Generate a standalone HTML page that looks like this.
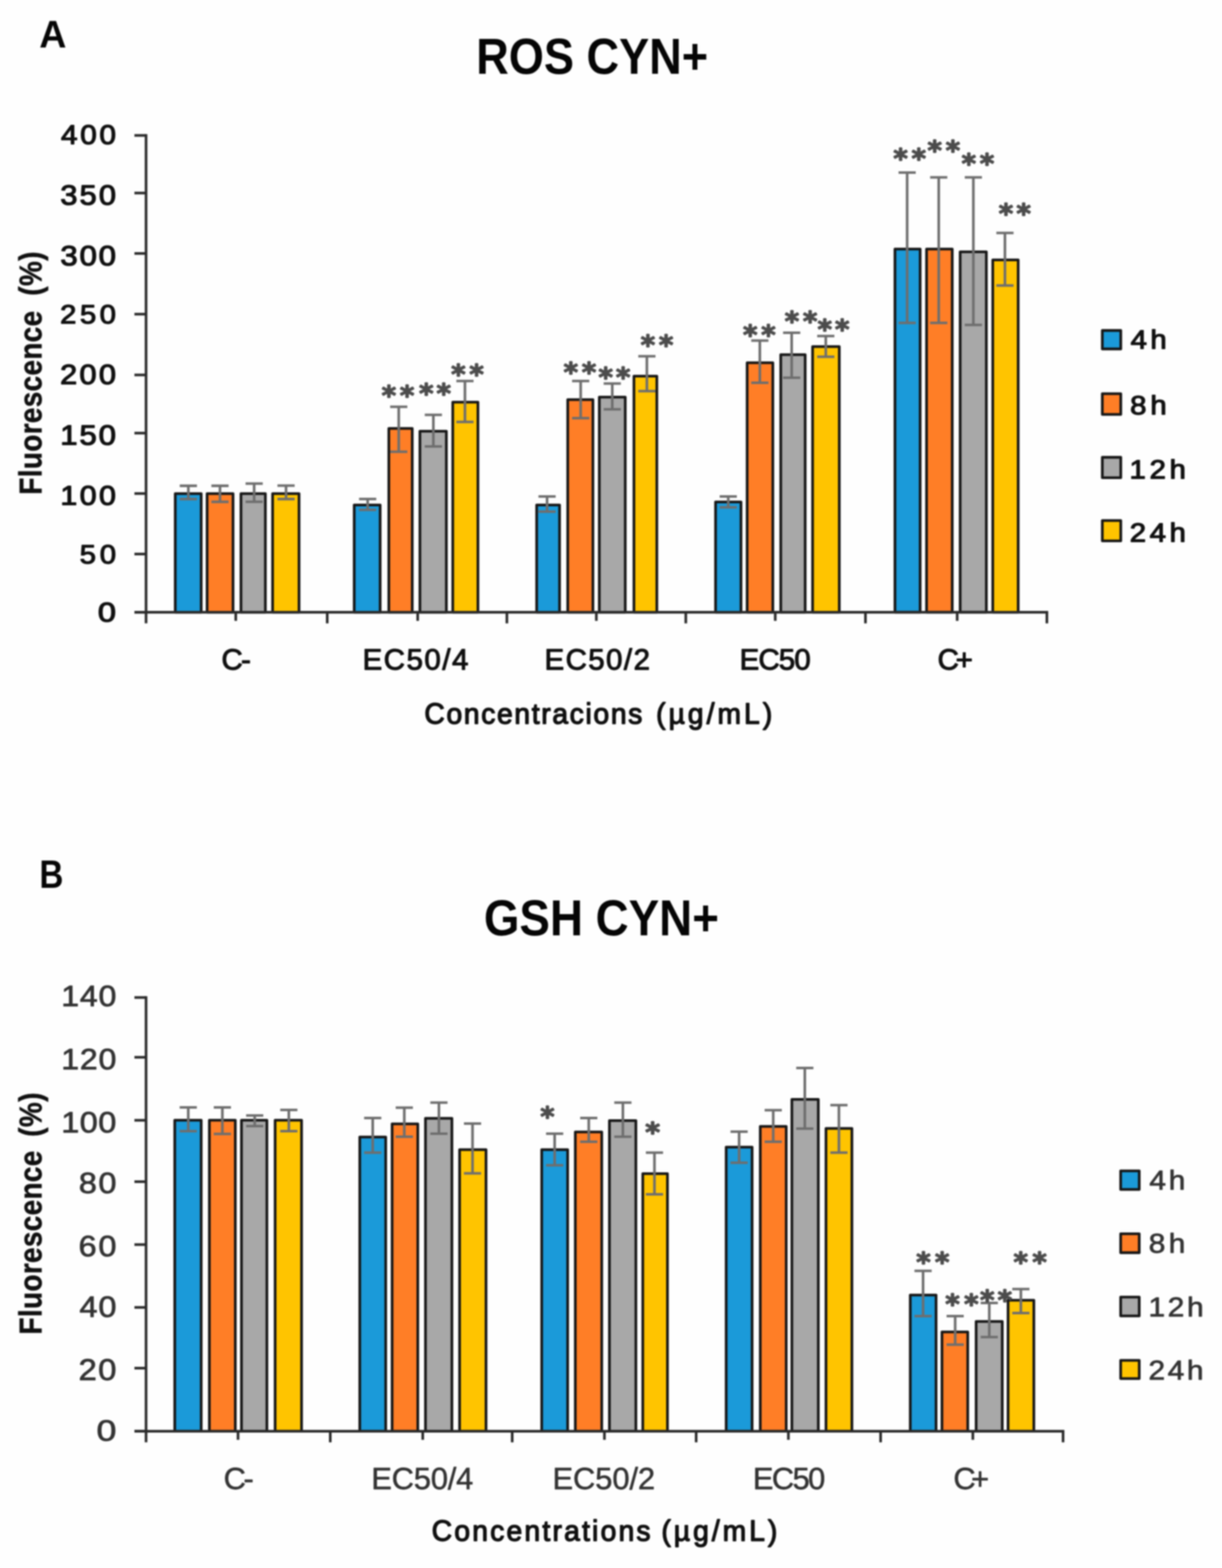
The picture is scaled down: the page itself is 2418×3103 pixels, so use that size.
<!DOCTYPE html>
<html lang="en">
<head>
<meta charset="utf-8">
<title>ROS CYN+ and GSH CYN+ fluorescence charts</title>
<style>
html,body{margin:0;padding:0;background:#fefefe;}
body{width:2418px;height:3103px;}
svg{display:block;}
svg text{font-family:"Liberation Sans",sans-serif;font-size:100px;white-space:pre;}
svg text.dv{font-family:"DejaVu Sans","Liberation Sans",sans-serif;}
.soft{filter:blur(1.5px);}
</style>
</head>
<body>
<svg width="2418" height="3103" viewBox="0 0 2418 3103" role="img" aria-label="Bar charts A (ROS CYN+) and B (GSH CYN+)">
<rect width="2418" height="3103" fill="#fefefe"/>
<g class="soft">
<g>
<rect x="346.8" y="976.9" width="51.3" height="234.7" fill="#1b9ad9" stroke="#161616" stroke-width="5.3" stroke-linejoin="round"/>
<rect x="409.8" y="976.9" width="51.3" height="234.7" fill="#ff7e26" stroke="#161616" stroke-width="5.3" stroke-linejoin="round"/>
<rect x="476.8" y="976.9" width="48.3" height="234.7" fill="#a8a8a8" stroke="#161616" stroke-width="5.3" stroke-linejoin="round"/>
<rect x="539.4" y="976.9" width="52.3" height="234.7" fill="#ffc400" stroke="#161616" stroke-width="5.3" stroke-linejoin="round"/>
<rect x="700.9" y="999.4" width="51.3" height="212.2" fill="#1b9ad9" stroke="#161616" stroke-width="5.3" stroke-linejoin="round"/>
<rect x="769.4" y="847.9" width="46.3" height="363.7" fill="#ff7e26" stroke="#161616" stroke-width="5.3" stroke-linejoin="round"/>
<rect x="830.9" y="853.4" width="52.3" height="358.2" fill="#a8a8a8" stroke="#161616" stroke-width="5.3" stroke-linejoin="round"/>
<rect x="895.9" y="795.9" width="49.8" height="415.7" fill="#ffc400" stroke="#161616" stroke-width="5.3" stroke-linejoin="round"/>
<rect x="1061.9" y="999.4" width="45.3" height="212.2" fill="#1b9ad9" stroke="#161616" stroke-width="5.3" stroke-linejoin="round"/>
<rect x="1123.4" y="790.9" width="49.8" height="420.7" fill="#ff7e26" stroke="#161616" stroke-width="5.3" stroke-linejoin="round"/>
<rect x="1185.9" y="785.9" width="51.3" height="425.7" fill="#a8a8a8" stroke="#161616" stroke-width="5.3" stroke-linejoin="round"/>
<rect x="1254.4" y="744.4" width="45.3" height="467.2" fill="#ffc400" stroke="#161616" stroke-width="5.3" stroke-linejoin="round"/>
<rect x="1415.9" y="993.4" width="50.3" height="218.2" fill="#1b9ad9" stroke="#161616" stroke-width="5.3" stroke-linejoin="round"/>
<rect x="1478.4" y="717.9" width="50.8" height="493.7" fill="#ff7e26" stroke="#161616" stroke-width="5.3" stroke-linejoin="round"/>
<rect x="1544.9" y="701.9" width="48.3" height="509.7" fill="#a8a8a8" stroke="#161616" stroke-width="5.3" stroke-linejoin="round"/>
<rect x="1607.9" y="685.9" width="52.8" height="525.7" fill="#ffc400" stroke="#161616" stroke-width="5.3" stroke-linejoin="round"/>
<rect x="1770.9" y="492.8" width="49.8" height="718.7" fill="#1b9ad9" stroke="#161616" stroke-width="5.3" stroke-linejoin="round"/>
<rect x="1833.4" y="492.8" width="50.8" height="718.7" fill="#ff7e26" stroke="#161616" stroke-width="5.3" stroke-linejoin="round"/>
<rect x="1899.9" y="498.3" width="51.8" height="713.2" fill="#a8a8a8" stroke="#161616" stroke-width="5.3" stroke-linejoin="round"/>
<rect x="1964.4" y="514.4" width="50.3" height="697.2" fill="#ffc400" stroke="#161616" stroke-width="5.3" stroke-linejoin="round"/>
<line x1="289.0" y1="265.4" x2="289.0" y2="1233.6" stroke="#2a2a2a" stroke-width="5.2" stroke-linecap="butt"/>
<line x1="266.0" y1="268.0" x2="289.0" y2="268.0" stroke="#2a2a2a" stroke-width="5.2" stroke-linecap="butt"/>
<line x1="266.0" y1="382.0" x2="289.0" y2="382.0" stroke="#2a2a2a" stroke-width="5.2" stroke-linecap="butt"/>
<line x1="266.0" y1="501.6" x2="289.0" y2="501.6" stroke="#2a2a2a" stroke-width="5.2" stroke-linecap="butt"/>
<line x1="266.0" y1="621.7" x2="289.0" y2="621.7" stroke="#2a2a2a" stroke-width="5.2" stroke-linecap="butt"/>
<line x1="266.0" y1="742.0" x2="289.0" y2="742.0" stroke="#2a2a2a" stroke-width="5.2" stroke-linecap="butt"/>
<line x1="266.0" y1="857.1" x2="289.0" y2="857.1" stroke="#2a2a2a" stroke-width="5.2" stroke-linecap="butt"/>
<line x1="266.0" y1="976.7" x2="289.0" y2="976.7" stroke="#2a2a2a" stroke-width="5.2" stroke-linecap="butt"/>
<line x1="266.0" y1="1096.4" x2="289.0" y2="1096.4" stroke="#2a2a2a" stroke-width="5.2" stroke-linecap="butt"/>
<line x1="266.0" y1="1211.6" x2="289.0" y2="1211.6" stroke="#2a2a2a" stroke-width="5.2" stroke-linecap="butt"/>
<line x1="266.0" y1="1211.6" x2="2074.1" y2="1211.6" stroke="#2a2a2a" stroke-width="5.2" stroke-linecap="butt"/>
<line x1="466.5" y1="1211.6" x2="466.5" y2="1228.6" stroke="#2a2a2a" stroke-width="5.2" stroke-linecap="butt"/>
<line x1="647.5" y1="1211.6" x2="647.5" y2="1233.6" stroke="#2a2a2a" stroke-width="5.2" stroke-linecap="butt"/>
<line x1="826.5" y1="1211.6" x2="826.5" y2="1228.6" stroke="#2a2a2a" stroke-width="5.2" stroke-linecap="butt"/>
<line x1="1003.0" y1="1211.6" x2="1003.0" y2="1233.6" stroke="#2a2a2a" stroke-width="5.2" stroke-linecap="butt"/>
<line x1="1180.0" y1="1211.6" x2="1180.0" y2="1228.6" stroke="#2a2a2a" stroke-width="5.2" stroke-linecap="butt"/>
<line x1="1357.0" y1="1211.6" x2="1357.0" y2="1233.6" stroke="#2a2a2a" stroke-width="5.2" stroke-linecap="butt"/>
<line x1="1534.0" y1="1211.6" x2="1534.0" y2="1228.6" stroke="#2a2a2a" stroke-width="5.2" stroke-linecap="butt"/>
<line x1="1712.5" y1="1211.6" x2="1712.5" y2="1233.6" stroke="#2a2a2a" stroke-width="5.2" stroke-linecap="butt"/>
<line x1="1894.0" y1="1211.6" x2="1894.0" y2="1228.6" stroke="#2a2a2a" stroke-width="5.2" stroke-linecap="butt"/>
<line x1="2071.5" y1="1211.6" x2="2071.5" y2="1233.6" stroke="#2a2a2a" stroke-width="5.2" stroke-linecap="butt"/>
<line x1="372.7" y1="961.3" x2="372.7" y2="987.6" stroke="#6e6e6e" stroke-width="5.2" stroke-linecap="butt"/>
<line x1="355.7" y1="961.3" x2="389.7" y2="961.3" stroke="#6e6e6e" stroke-width="5.2" stroke-linecap="butt"/>
<line x1="355.7" y1="987.6" x2="389.7" y2="987.6" stroke="#6e6e6e" stroke-width="5.2" stroke-linecap="butt"/>
<line x1="435.3" y1="961.3" x2="435.3" y2="993.1" stroke="#6e6e6e" stroke-width="5.2" stroke-linecap="butt"/>
<line x1="418.3" y1="961.3" x2="452.3" y2="961.3" stroke="#6e6e6e" stroke-width="5.2" stroke-linecap="butt"/>
<line x1="418.3" y1="993.1" x2="452.3" y2="993.1" stroke="#6e6e6e" stroke-width="5.2" stroke-linecap="butt"/>
<line x1="502.9" y1="957.0" x2="502.9" y2="993.0" stroke="#6e6e6e" stroke-width="5.2" stroke-linecap="butt"/>
<line x1="485.9" y1="957.0" x2="519.9" y2="957.0" stroke="#6e6e6e" stroke-width="5.2" stroke-linecap="butt"/>
<line x1="485.9" y1="993.0" x2="519.9" y2="993.0" stroke="#6e6e6e" stroke-width="5.2" stroke-linecap="butt"/>
<line x1="566.0" y1="961.0" x2="566.0" y2="987.6" stroke="#6e6e6e" stroke-width="5.2" stroke-linecap="butt"/>
<line x1="549.0" y1="961.0" x2="583.0" y2="961.0" stroke="#6e6e6e" stroke-width="5.2" stroke-linecap="butt"/>
<line x1="549.0" y1="987.6" x2="583.0" y2="987.6" stroke="#6e6e6e" stroke-width="5.2" stroke-linecap="butt"/>
<line x1="727.5" y1="987.5" x2="727.5" y2="1009.0" stroke="#6e6e6e" stroke-width="5.2" stroke-linecap="butt"/>
<line x1="710.5" y1="987.5" x2="744.5" y2="987.5" stroke="#6e6e6e" stroke-width="5.2" stroke-linecap="butt"/>
<line x1="710.5" y1="1009.0" x2="744.5" y2="1009.0" stroke="#6e6e6e" stroke-width="5.2" stroke-linecap="butt"/>
<line x1="789.0" y1="805.0" x2="789.0" y2="894.0" stroke="#6e6e6e" stroke-width="5.2" stroke-linecap="butt"/>
<line x1="772.0" y1="805.0" x2="806.0" y2="805.0" stroke="#6e6e6e" stroke-width="5.2" stroke-linecap="butt"/>
<line x1="772.0" y1="894.0" x2="806.0" y2="894.0" stroke="#6e6e6e" stroke-width="5.2" stroke-linecap="butt"/>
<line x1="857.5" y1="821.0" x2="857.5" y2="883.5" stroke="#6e6e6e" stroke-width="5.2" stroke-linecap="butt"/>
<line x1="840.5" y1="821.0" x2="874.5" y2="821.0" stroke="#6e6e6e" stroke-width="5.2" stroke-linecap="butt"/>
<line x1="840.5" y1="883.5" x2="874.5" y2="883.5" stroke="#6e6e6e" stroke-width="5.2" stroke-linecap="butt"/>
<line x1="920.0" y1="754.0" x2="920.0" y2="835.0" stroke="#6e6e6e" stroke-width="5.2" stroke-linecap="butt"/>
<line x1="903.0" y1="754.0" x2="937.0" y2="754.0" stroke="#6e6e6e" stroke-width="5.2" stroke-linecap="butt"/>
<line x1="903.0" y1="835.0" x2="937.0" y2="835.0" stroke="#6e6e6e" stroke-width="5.2" stroke-linecap="butt"/>
<line x1="1082.5" y1="982.5" x2="1082.5" y2="1012.5" stroke="#6e6e6e" stroke-width="5.2" stroke-linecap="butt"/>
<line x1="1065.5" y1="982.5" x2="1099.5" y2="982.5" stroke="#6e6e6e" stroke-width="5.2" stroke-linecap="butt"/>
<line x1="1065.5" y1="1012.5" x2="1099.5" y2="1012.5" stroke="#6e6e6e" stroke-width="5.2" stroke-linecap="butt"/>
<line x1="1149.0" y1="754.0" x2="1149.0" y2="827.5" stroke="#6e6e6e" stroke-width="5.2" stroke-linecap="butt"/>
<line x1="1132.0" y1="754.0" x2="1166.0" y2="754.0" stroke="#6e6e6e" stroke-width="5.2" stroke-linecap="butt"/>
<line x1="1132.0" y1="827.5" x2="1166.0" y2="827.5" stroke="#6e6e6e" stroke-width="5.2" stroke-linecap="butt"/>
<line x1="1211.5" y1="759.0" x2="1211.5" y2="810.0" stroke="#6e6e6e" stroke-width="5.2" stroke-linecap="butt"/>
<line x1="1194.5" y1="759.0" x2="1228.5" y2="759.0" stroke="#6e6e6e" stroke-width="5.2" stroke-linecap="butt"/>
<line x1="1194.5" y1="810.0" x2="1228.5" y2="810.0" stroke="#6e6e6e" stroke-width="5.2" stroke-linecap="butt"/>
<line x1="1280.0" y1="705.0" x2="1280.0" y2="774.0" stroke="#6e6e6e" stroke-width="5.2" stroke-linecap="butt"/>
<line x1="1263.0" y1="705.0" x2="1297.0" y2="705.0" stroke="#6e6e6e" stroke-width="5.2" stroke-linecap="butt"/>
<line x1="1263.0" y1="774.0" x2="1297.0" y2="774.0" stroke="#6e6e6e" stroke-width="5.2" stroke-linecap="butt"/>
<line x1="1441.0" y1="982.5" x2="1441.0" y2="1004.0" stroke="#6e6e6e" stroke-width="5.2" stroke-linecap="butt"/>
<line x1="1424.0" y1="982.5" x2="1458.0" y2="982.5" stroke="#6e6e6e" stroke-width="5.2" stroke-linecap="butt"/>
<line x1="1424.0" y1="1004.0" x2="1458.0" y2="1004.0" stroke="#6e6e6e" stroke-width="5.2" stroke-linecap="butt"/>
<line x1="1503.5" y1="674.0" x2="1503.5" y2="757.5" stroke="#6e6e6e" stroke-width="5.2" stroke-linecap="butt"/>
<line x1="1486.5" y1="674.0" x2="1520.5" y2="674.0" stroke="#6e6e6e" stroke-width="5.2" stroke-linecap="butt"/>
<line x1="1486.5" y1="757.5" x2="1520.5" y2="757.5" stroke="#6e6e6e" stroke-width="5.2" stroke-linecap="butt"/>
<line x1="1566.5" y1="658.5" x2="1566.5" y2="747.5" stroke="#6e6e6e" stroke-width="5.2" stroke-linecap="butt"/>
<line x1="1549.5" y1="658.5" x2="1583.5" y2="658.5" stroke="#6e6e6e" stroke-width="5.2" stroke-linecap="butt"/>
<line x1="1549.5" y1="747.5" x2="1583.5" y2="747.5" stroke="#6e6e6e" stroke-width="5.2" stroke-linecap="butt"/>
<line x1="1634.0" y1="665.0" x2="1634.0" y2="706.0" stroke="#6e6e6e" stroke-width="5.2" stroke-linecap="butt"/>
<line x1="1617.0" y1="665.0" x2="1651.0" y2="665.0" stroke="#6e6e6e" stroke-width="5.2" stroke-linecap="butt"/>
<line x1="1617.0" y1="706.0" x2="1651.0" y2="706.0" stroke="#6e6e6e" stroke-width="5.2" stroke-linecap="butt"/>
<line x1="1795.0" y1="341.5" x2="1795.0" y2="639.0" stroke="#6e6e6e" stroke-width="5.2" stroke-linecap="butt"/>
<line x1="1778.0" y1="341.5" x2="1812.0" y2="341.5" stroke="#6e6e6e" stroke-width="5.2" stroke-linecap="butt"/>
<line x1="1778.0" y1="639.0" x2="1812.0" y2="639.0" stroke="#6e6e6e" stroke-width="5.2" stroke-linecap="butt"/>
<line x1="1857.5" y1="351.0" x2="1857.5" y2="639.0" stroke="#6e6e6e" stroke-width="5.2" stroke-linecap="butt"/>
<line x1="1840.5" y1="351.0" x2="1874.5" y2="351.0" stroke="#6e6e6e" stroke-width="5.2" stroke-linecap="butt"/>
<line x1="1840.5" y1="639.0" x2="1874.5" y2="639.0" stroke="#6e6e6e" stroke-width="5.2" stroke-linecap="butt"/>
<line x1="1926.0" y1="351.0" x2="1926.0" y2="643.0" stroke="#6e6e6e" stroke-width="5.2" stroke-linecap="butt"/>
<line x1="1909.0" y1="351.0" x2="1943.0" y2="351.0" stroke="#6e6e6e" stroke-width="5.2" stroke-linecap="butt"/>
<line x1="1909.0" y1="643.0" x2="1943.0" y2="643.0" stroke="#6e6e6e" stroke-width="5.2" stroke-linecap="butt"/>
<line x1="1988.5" y1="461.0" x2="1988.5" y2="565.0" stroke="#6e6e6e" stroke-width="5.2" stroke-linecap="butt"/>
<line x1="1971.5" y1="461.0" x2="2005.5" y2="461.0" stroke="#6e6e6e" stroke-width="5.2" stroke-linecap="butt"/>
<line x1="1971.5" y1="565.0" x2="2005.5" y2="565.0" stroke="#6e6e6e" stroke-width="5.2" stroke-linecap="butt"/>
<rect x="2181.2" y="654.0" width="36.5" height="36.5" fill="#1b9ad9" stroke="#161616" stroke-width="5.3" stroke-linejoin="round"/>
<rect x="2181.2" y="779.1" width="36.5" height="41.0" fill="#ff7e26" stroke="#161616" stroke-width="5.3" stroke-linejoin="round"/>
<rect x="2181.2" y="905.0" width="36.5" height="40.3" fill="#a8a8a8" stroke="#161616" stroke-width="5.3" stroke-linejoin="round"/>
<rect x="2181.2" y="1030.2" width="36.5" height="40.1" fill="#ffc400" stroke="#161616" stroke-width="5.3" stroke-linejoin="round"/>
<rect x="345.8" y="2216.8" width="52.3" height="615.5" fill="#1b9ad9" stroke="#161616" stroke-width="5.3" stroke-linejoin="round"/>
<rect x="414.3" y="2216.8" width="51.3" height="615.5" fill="#ff7e26" stroke="#161616" stroke-width="5.3" stroke-linejoin="round"/>
<rect x="477.8" y="2216.8" width="50.3" height="615.5" fill="#a8a8a8" stroke="#161616" stroke-width="5.3" stroke-linejoin="round"/>
<rect x="544.4" y="2216.8" width="52.3" height="615.5" fill="#ffc400" stroke="#161616" stroke-width="5.3" stroke-linejoin="round"/>
<rect x="711.9" y="2250.2" width="51.3" height="582.2" fill="#1b9ad9" stroke="#161616" stroke-width="5.3" stroke-linejoin="round"/>
<rect x="775.9" y="2224.2" width="50.8" height="608.2" fill="#ff7e26" stroke="#161616" stroke-width="5.3" stroke-linejoin="round"/>
<rect x="841.9" y="2213.2" width="52.3" height="619.2" fill="#a8a8a8" stroke="#161616" stroke-width="5.3" stroke-linejoin="round"/>
<rect x="909.4" y="2275.2" width="52.3" height="557.2" fill="#ffc400" stroke="#161616" stroke-width="5.3" stroke-linejoin="round"/>
<rect x="1071.9" y="2275.2" width="51.3" height="557.2" fill="#1b9ad9" stroke="#161616" stroke-width="5.3" stroke-linejoin="round"/>
<rect x="1138.4" y="2240.2" width="52.3" height="592.2" fill="#ff7e26" stroke="#161616" stroke-width="5.3" stroke-linejoin="round"/>
<rect x="1205.9" y="2217.7" width="52.3" height="614.7" fill="#a8a8a8" stroke="#161616" stroke-width="5.3" stroke-linejoin="round"/>
<rect x="1271.9" y="2322.7" width="48.8" height="509.7" fill="#ffc400" stroke="#161616" stroke-width="5.3" stroke-linejoin="round"/>
<rect x="1436.9" y="2270.2" width="51.3" height="562.2" fill="#1b9ad9" stroke="#161616" stroke-width="5.3" stroke-linejoin="round"/>
<rect x="1504.4" y="2229.2" width="51.3" height="603.2" fill="#ff7e26" stroke="#161616" stroke-width="5.3" stroke-linejoin="round"/>
<rect x="1566.9" y="2175.7" width="52.3" height="656.7" fill="#a8a8a8" stroke="#161616" stroke-width="5.3" stroke-linejoin="round"/>
<rect x="1634.4" y="2233.2" width="51.3" height="599.2" fill="#ffc400" stroke="#161616" stroke-width="5.3" stroke-linejoin="round"/>
<rect x="1801.2" y="2562.8" width="51.0" height="269.5" fill="#1b9ad9" stroke="#161616" stroke-width="5.3" stroke-linejoin="round"/>
<rect x="1863.9" y="2635.8" width="51.0" height="196.5" fill="#ff7e26" stroke="#161616" stroke-width="5.3" stroke-linejoin="round"/>
<rect x="1931.5" y="2615.2" width="51.7" height="217.2" fill="#a8a8a8" stroke="#161616" stroke-width="5.3" stroke-linejoin="round"/>
<rect x="1994.7" y="2573.2" width="51.0" height="259.2" fill="#ffc400" stroke="#161616" stroke-width="5.3" stroke-linejoin="round"/>
<line x1="289.0" y1="1971.4" x2="289.0" y2="2854.3" stroke="#2a2a2a" stroke-width="5.2" stroke-linecap="butt"/>
<line x1="266.0" y1="1974.0" x2="289.0" y2="1974.0" stroke="#2a2a2a" stroke-width="5.2" stroke-linecap="butt"/>
<line x1="266.0" y1="2092.3" x2="289.0" y2="2092.3" stroke="#2a2a2a" stroke-width="5.2" stroke-linecap="butt"/>
<line x1="266.0" y1="2217.0" x2="289.0" y2="2217.0" stroke="#2a2a2a" stroke-width="5.2" stroke-linecap="butt"/>
<line x1="266.0" y1="2338.5" x2="289.0" y2="2338.5" stroke="#2a2a2a" stroke-width="5.2" stroke-linecap="butt"/>
<line x1="266.0" y1="2463.0" x2="289.0" y2="2463.0" stroke="#2a2a2a" stroke-width="5.2" stroke-linecap="butt"/>
<line x1="266.0" y1="2587.3" x2="289.0" y2="2587.3" stroke="#2a2a2a" stroke-width="5.2" stroke-linecap="butt"/>
<line x1="266.0" y1="2707.5" x2="289.0" y2="2707.5" stroke="#2a2a2a" stroke-width="5.2" stroke-linecap="butt"/>
<line x1="266.0" y1="2832.3" x2="289.0" y2="2832.3" stroke="#2a2a2a" stroke-width="5.2" stroke-linecap="butt"/>
<line x1="266.0" y1="2832.3" x2="2106.1" y2="2832.3" stroke="#2a2a2a" stroke-width="5.2" stroke-linecap="butt"/>
<line x1="471.0" y1="2832.3" x2="471.0" y2="2849.3" stroke="#2a2a2a" stroke-width="5.2" stroke-linecap="butt"/>
<line x1="653.5" y1="2832.3" x2="653.5" y2="2854.3" stroke="#2a2a2a" stroke-width="5.2" stroke-linecap="butt"/>
<line x1="836.5" y1="2832.3" x2="836.5" y2="2849.3" stroke="#2a2a2a" stroke-width="5.2" stroke-linecap="butt"/>
<line x1="1013.5" y1="2832.3" x2="1013.5" y2="2854.3" stroke="#2a2a2a" stroke-width="5.2" stroke-linecap="butt"/>
<line x1="1196.0" y1="2832.3" x2="1196.0" y2="2849.3" stroke="#2a2a2a" stroke-width="5.2" stroke-linecap="butt"/>
<line x1="1377.5" y1="2832.3" x2="1377.5" y2="2854.3" stroke="#2a2a2a" stroke-width="5.2" stroke-linecap="butt"/>
<line x1="1560.0" y1="2832.3" x2="1560.0" y2="2849.3" stroke="#2a2a2a" stroke-width="5.2" stroke-linecap="butt"/>
<line x1="1742.5" y1="2832.3" x2="1742.5" y2="2854.3" stroke="#2a2a2a" stroke-width="5.2" stroke-linecap="butt"/>
<line x1="1925.0" y1="2832.3" x2="1925.0" y2="2849.3" stroke="#2a2a2a" stroke-width="5.2" stroke-linecap="butt"/>
<line x1="2103.5" y1="2832.3" x2="2103.5" y2="2854.3" stroke="#2a2a2a" stroke-width="5.2" stroke-linecap="butt"/>
<line x1="372.5" y1="2191.5" x2="372.5" y2="2238.5" stroke="#6e6e6e" stroke-width="5.2" stroke-linecap="butt"/>
<line x1="355.5" y1="2191.5" x2="389.5" y2="2191.5" stroke="#6e6e6e" stroke-width="5.2" stroke-linecap="butt"/>
<line x1="355.5" y1="2238.5" x2="389.5" y2="2238.5" stroke="#6e6e6e" stroke-width="5.2" stroke-linecap="butt"/>
<line x1="440.0" y1="2191.5" x2="440.0" y2="2244.0" stroke="#6e6e6e" stroke-width="5.2" stroke-linecap="butt"/>
<line x1="423.0" y1="2191.5" x2="457.0" y2="2191.5" stroke="#6e6e6e" stroke-width="5.2" stroke-linecap="butt"/>
<line x1="423.0" y1="2244.0" x2="457.0" y2="2244.0" stroke="#6e6e6e" stroke-width="5.2" stroke-linecap="butt"/>
<line x1="504.0" y1="2207.5" x2="504.0" y2="2228.5" stroke="#6e6e6e" stroke-width="5.2" stroke-linecap="butt"/>
<line x1="487.0" y1="2207.5" x2="521.0" y2="2207.5" stroke="#6e6e6e" stroke-width="5.2" stroke-linecap="butt"/>
<line x1="487.0" y1="2228.5" x2="521.0" y2="2228.5" stroke="#6e6e6e" stroke-width="5.2" stroke-linecap="butt"/>
<line x1="571.5" y1="2196.5" x2="571.5" y2="2238.5" stroke="#6e6e6e" stroke-width="5.2" stroke-linecap="butt"/>
<line x1="554.5" y1="2196.5" x2="588.5" y2="2196.5" stroke="#6e6e6e" stroke-width="5.2" stroke-linecap="butt"/>
<line x1="554.5" y1="2238.5" x2="588.5" y2="2238.5" stroke="#6e6e6e" stroke-width="5.2" stroke-linecap="butt"/>
<line x1="737.5" y1="2212.5" x2="737.5" y2="2281.0" stroke="#6e6e6e" stroke-width="5.2" stroke-linecap="butt"/>
<line x1="720.5" y1="2212.5" x2="754.5" y2="2212.5" stroke="#6e6e6e" stroke-width="5.2" stroke-linecap="butt"/>
<line x1="720.5" y1="2281.0" x2="754.5" y2="2281.0" stroke="#6e6e6e" stroke-width="5.2" stroke-linecap="butt"/>
<line x1="800.0" y1="2192.0" x2="800.0" y2="2249.5" stroke="#6e6e6e" stroke-width="5.2" stroke-linecap="butt"/>
<line x1="783.0" y1="2192.0" x2="817.0" y2="2192.0" stroke="#6e6e6e" stroke-width="5.2" stroke-linecap="butt"/>
<line x1="783.0" y1="2249.5" x2="817.0" y2="2249.5" stroke="#6e6e6e" stroke-width="5.2" stroke-linecap="butt"/>
<line x1="868.5" y1="2182.0" x2="868.5" y2="2243.5" stroke="#6e6e6e" stroke-width="5.2" stroke-linecap="butt"/>
<line x1="851.5" y1="2182.0" x2="885.5" y2="2182.0" stroke="#6e6e6e" stroke-width="5.2" stroke-linecap="butt"/>
<line x1="851.5" y1="2243.5" x2="885.5" y2="2243.5" stroke="#6e6e6e" stroke-width="5.2" stroke-linecap="butt"/>
<line x1="935.0" y1="2223.5" x2="935.0" y2="2322.0" stroke="#6e6e6e" stroke-width="5.2" stroke-linecap="butt"/>
<line x1="918.0" y1="2223.5" x2="952.0" y2="2223.5" stroke="#6e6e6e" stroke-width="5.2" stroke-linecap="butt"/>
<line x1="918.0" y1="2322.0" x2="952.0" y2="2322.0" stroke="#6e6e6e" stroke-width="5.2" stroke-linecap="butt"/>
<line x1="1097.5" y1="2243.5" x2="1097.5" y2="2306.0" stroke="#6e6e6e" stroke-width="5.2" stroke-linecap="butt"/>
<line x1="1080.5" y1="2243.5" x2="1114.5" y2="2243.5" stroke="#6e6e6e" stroke-width="5.2" stroke-linecap="butt"/>
<line x1="1080.5" y1="2306.0" x2="1114.5" y2="2306.0" stroke="#6e6e6e" stroke-width="5.2" stroke-linecap="butt"/>
<line x1="1165.0" y1="2212.5" x2="1165.0" y2="2259.5" stroke="#6e6e6e" stroke-width="5.2" stroke-linecap="butt"/>
<line x1="1148.0" y1="2212.5" x2="1182.0" y2="2212.5" stroke="#6e6e6e" stroke-width="5.2" stroke-linecap="butt"/>
<line x1="1148.0" y1="2259.5" x2="1182.0" y2="2259.5" stroke="#6e6e6e" stroke-width="5.2" stroke-linecap="butt"/>
<line x1="1232.5" y1="2182.0" x2="1232.5" y2="2249.5" stroke="#6e6e6e" stroke-width="5.2" stroke-linecap="butt"/>
<line x1="1215.5" y1="2182.0" x2="1249.5" y2="2182.0" stroke="#6e6e6e" stroke-width="5.2" stroke-linecap="butt"/>
<line x1="1215.5" y1="2249.5" x2="1249.5" y2="2249.5" stroke="#6e6e6e" stroke-width="5.2" stroke-linecap="butt"/>
<line x1="1295.0" y1="2281.0" x2="1295.0" y2="2363.5" stroke="#6e6e6e" stroke-width="5.2" stroke-linecap="butt"/>
<line x1="1278.0" y1="2281.0" x2="1312.0" y2="2281.0" stroke="#6e6e6e" stroke-width="5.2" stroke-linecap="butt"/>
<line x1="1278.0" y1="2363.5" x2="1312.0" y2="2363.5" stroke="#6e6e6e" stroke-width="5.2" stroke-linecap="butt"/>
<line x1="1462.5" y1="2239.5" x2="1462.5" y2="2301.0" stroke="#6e6e6e" stroke-width="5.2" stroke-linecap="butt"/>
<line x1="1445.5" y1="2239.5" x2="1479.5" y2="2239.5" stroke="#6e6e6e" stroke-width="5.2" stroke-linecap="butt"/>
<line x1="1445.5" y1="2301.0" x2="1479.5" y2="2301.0" stroke="#6e6e6e" stroke-width="5.2" stroke-linecap="butt"/>
<line x1="1530.0" y1="2197.0" x2="1530.0" y2="2259.5" stroke="#6e6e6e" stroke-width="5.2" stroke-linecap="butt"/>
<line x1="1513.0" y1="2197.0" x2="1547.0" y2="2197.0" stroke="#6e6e6e" stroke-width="5.2" stroke-linecap="butt"/>
<line x1="1513.0" y1="2259.5" x2="1547.0" y2="2259.5" stroke="#6e6e6e" stroke-width="5.2" stroke-linecap="butt"/>
<line x1="1592.5" y1="2113.5" x2="1592.5" y2="2233.5" stroke="#6e6e6e" stroke-width="5.2" stroke-linecap="butt"/>
<line x1="1575.5" y1="2113.5" x2="1609.5" y2="2113.5" stroke="#6e6e6e" stroke-width="5.2" stroke-linecap="butt"/>
<line x1="1575.5" y1="2233.5" x2="1609.5" y2="2233.5" stroke="#6e6e6e" stroke-width="5.2" stroke-linecap="butt"/>
<line x1="1660.0" y1="2187.0" x2="1660.0" y2="2281.0" stroke="#6e6e6e" stroke-width="5.2" stroke-linecap="butt"/>
<line x1="1643.0" y1="2187.0" x2="1677.0" y2="2187.0" stroke="#6e6e6e" stroke-width="5.2" stroke-linecap="butt"/>
<line x1="1643.0" y1="2281.0" x2="1677.0" y2="2281.0" stroke="#6e6e6e" stroke-width="5.2" stroke-linecap="butt"/>
<line x1="1826.5" y1="2515.0" x2="1826.5" y2="2604.5" stroke="#6e6e6e" stroke-width="5.2" stroke-linecap="butt"/>
<line x1="1809.5" y1="2515.0" x2="1843.5" y2="2515.0" stroke="#6e6e6e" stroke-width="5.2" stroke-linecap="butt"/>
<line x1="1809.5" y1="2604.5" x2="1843.5" y2="2604.5" stroke="#6e6e6e" stroke-width="5.2" stroke-linecap="butt"/>
<line x1="1890.0" y1="2604.5" x2="1890.0" y2="2661.0" stroke="#6e6e6e" stroke-width="5.2" stroke-linecap="butt"/>
<line x1="1873.0" y1="2604.5" x2="1907.0" y2="2604.5" stroke="#6e6e6e" stroke-width="5.2" stroke-linecap="butt"/>
<line x1="1873.0" y1="2661.0" x2="1907.0" y2="2661.0" stroke="#6e6e6e" stroke-width="5.2" stroke-linecap="butt"/>
<line x1="1957.5" y1="2578.5" x2="1957.5" y2="2646.0" stroke="#6e6e6e" stroke-width="5.2" stroke-linecap="butt"/>
<line x1="1940.5" y1="2578.5" x2="1974.5" y2="2578.5" stroke="#6e6e6e" stroke-width="5.2" stroke-linecap="butt"/>
<line x1="1940.5" y1="2646.0" x2="1974.5" y2="2646.0" stroke="#6e6e6e" stroke-width="5.2" stroke-linecap="butt"/>
<line x1="2020.0" y1="2551.0" x2="2020.0" y2="2598.5" stroke="#6e6e6e" stroke-width="5.2" stroke-linecap="butt"/>
<line x1="2003.0" y1="2551.0" x2="2037.0" y2="2551.0" stroke="#6e6e6e" stroke-width="5.2" stroke-linecap="butt"/>
<line x1="2003.0" y1="2598.5" x2="2037.0" y2="2598.5" stroke="#6e6e6e" stroke-width="5.2" stroke-linecap="butt"/>
<rect x="2217.5" y="2317.1" width="36.7" height="36.7" fill="#1b9ad9" stroke="#161616" stroke-width="5.3" stroke-linejoin="round"/>
<rect x="2217.5" y="2441.7" width="36.7" height="37.3" fill="#ff7e26" stroke="#161616" stroke-width="5.3" stroke-linejoin="round"/>
<rect x="2217.5" y="2566.8" width="36.7" height="37.3" fill="#a8a8a8" stroke="#161616" stroke-width="5.3" stroke-linejoin="round"/>
<rect x="2217.5" y="2692.1" width="36.7" height="36.0" fill="#ffc400" stroke="#161616" stroke-width="5.3" stroke-linejoin="round"/>
</g>
<g>
<text transform="matrix(0.7424 0 0 0.7631 77.77 94.00)" font-weight="700" fill="#050505">A</text>
<text transform="matrix(0.8926 0 0 0.9956 942.25 146.00)" font-weight="700" fill="#050505">ROS CYN+</text>
<text transform="matrix(0.5581 0 0 0.5753 839.83 1432.29)" font-weight="400" fill="#101010" stroke="#101010" stroke-width="4.2" stroke-linejoin="round"><tspan x="0.00" letter-spacing="5.99">Concentracions</tspan> <tspan x="821.46" letter-spacing="10.86">(µg/mL)</tspan></text>
<text transform="translate(82.13 978.81) rotate(-90) scale(0.5520 0.6202)" font-weight="700" fill="#101010" stroke="#101010" stroke-width="1.5" stroke-linejoin="round"><tspan x="0.00" letter-spacing="1.28">Fluorescence</tspan> <tspan x="713.08" letter-spacing="1.41">(%)</tspan></text>
<text transform="matrix(0.5867 0 0 0.5333 120.70 284.70)" font-weight="400" fill="#101010" stroke="#101010" stroke-width="4.0" stroke-linejoin="round" letter-spacing="9.20">400</text>
<text transform="matrix(0.6057 0 0 0.5507 119.49 404.85)" font-weight="400" fill="#101010" stroke="#101010" stroke-width="4.0" stroke-linejoin="round" letter-spacing="7.32">350</text>
<text transform="matrix(0.6131 0 0 0.5573 119.47 524.93)" font-weight="400" fill="#101010" stroke="#101010" stroke-width="4.0" stroke-linejoin="round" letter-spacing="6.26">300</text>
<text transform="matrix(0.5764 0 0 0.5240 118.97 640.23)" font-weight="400" fill="#101010" stroke="#101010" stroke-width="4.0" stroke-linejoin="round" letter-spacing="12.34">250</text>
<text transform="matrix(0.6057 0 0 0.5507 118.88 759.85)" font-weight="400" fill="#101010" stroke="#101010" stroke-width="4.0" stroke-linejoin="round" letter-spacing="7.82">200</text>
<text transform="matrix(0.6131 0 0 0.5573 119.32 879.93)" font-weight="400" fill="#101010" stroke="#101010" stroke-width="4.0" stroke-linejoin="round" letter-spacing="6.38">150</text>
<text transform="matrix(0.5984 0 0 0.5440 119.41 998.87)" font-weight="400" fill="#101010" stroke="#101010" stroke-width="4.0" stroke-linejoin="round" letter-spacing="8.48">100</text>
<text transform="matrix(0.5764 0 0 0.5240 157.85 1114.53)" font-weight="400" fill="#101010" stroke="#101010" stroke-width="4.0" stroke-linejoin="round" letter-spacing="13.23">50</text>
<text transform="matrix(0.6404 0 0 0.5333 193.72 1230.40)" font-weight="400" fill="#101010" stroke="#101010" stroke-width="4.0" stroke-linejoin="round">0</text>
<text transform="matrix(0.5817 0 0 0.5817 438.25 1324.51)" font-weight="400" fill="#101010" stroke="#101010" stroke-width="3.4" stroke-linejoin="round" letter-spacing="-5.45">C-</text>
<text transform="matrix(0.5817 0 0 0.5817 717.43 1324.51)" font-weight="400" fill="#101010" stroke="#101010" stroke-width="3.4" stroke-linejoin="round" letter-spacing="5.31">EC50/4</text>
<text transform="matrix(0.5817 0 0 0.5817 1077.43 1324.51)" font-weight="400" fill="#101010" stroke="#101010" stroke-width="3.4" stroke-linejoin="round" letter-spacing="5.02">EC50/2</text>
<text transform="matrix(0.5817 0 0 0.5817 1463.43 1324.51)" font-weight="400" fill="#101010" stroke="#101010" stroke-width="3.4" stroke-linejoin="round" letter-spacing="-2.69">EC50</text>
<text transform="matrix(0.5817 0 0 0.5817 1855.25 1324.51)" font-weight="400" fill="#101010" stroke="#101010" stroke-width="3.4" stroke-linejoin="round" letter-spacing="-10.54">C+</text>
<text transform="matrix(0.5793 0 0 0.5267 2237.30 690.08)" font-weight="400" fill="#101010" stroke="#101010" stroke-width="4.0" stroke-linejoin="round" letter-spacing="11.58">4h</text>
<text transform="matrix(0.5793 0 0 0.5267 2236.14 820.28)" font-weight="400" fill="#101010" stroke="#101010" stroke-width="4.0" stroke-linejoin="round" letter-spacing="13.58">8h</text>
<text transform="matrix(0.5793 0 0 0.5267 2235.02 946.68)" font-weight="400" fill="#101010" stroke="#101010" stroke-width="4.0" stroke-linejoin="round" letter-spacing="12.79">12h</text>
<text transform="matrix(0.5793 0 0 0.5267 2235.56 1071.68)" font-weight="400" fill="#101010" stroke="#101010" stroke-width="4.0" stroke-linejoin="round" letter-spacing="12.33">24h</text>
<text transform="matrix(0.5606 0 0 0.5096 755.56 800.70)" font-weight="400" fill="#4c4c4c" stroke="#4c4c4c" stroke-width="7.0" stroke-linejoin="round" letter-spacing="13.95" class="dv">**</text>
<text transform="matrix(0.5606 0 0 0.5096 829.56 797.20)" font-weight="400" fill="#4c4c4c" stroke="#4c4c4c" stroke-width="7.0" stroke-linejoin="round" letter-spacing="11.28" class="dv">**</text>
<text transform="matrix(0.5606 0 0 0.5096 893.06 758.70)" font-weight="400" fill="#4c4c4c" stroke="#4c4c4c" stroke-width="7.0" stroke-linejoin="round" letter-spacing="13.95" class="dv">**</text>
<text transform="matrix(0.5606 0 0 0.5096 1115.56 754.70)" font-weight="400" fill="#4c4c4c" stroke="#4c4c4c" stroke-width="7.0" stroke-linejoin="round" letter-spacing="13.95" class="dv">**</text>
<text transform="matrix(0.5606 0 0 0.5096 1184.56 764.70)" font-weight="400" fill="#4c4c4c" stroke="#4c4c4c" stroke-width="7.0" stroke-linejoin="round" letter-spacing="11.28" class="dv">**</text>
<text transform="matrix(0.5606 0 0 0.5096 1268.06 700.70)" font-weight="400" fill="#4c4c4c" stroke="#4c4c4c" stroke-width="7.0" stroke-linejoin="round" letter-spacing="13.95" class="dv">**</text>
<text transform="matrix(0.5606 0 0 0.5096 1470.56 680.70)" font-weight="400" fill="#4c4c4c" stroke="#4c4c4c" stroke-width="7.0" stroke-linejoin="round" letter-spacing="13.95" class="dv">**</text>
<text transform="matrix(0.5606 0 0 0.5096 1553.06 653.70)" font-weight="400" fill="#4c4c4c" stroke="#4c4c4c" stroke-width="7.0" stroke-linejoin="round" letter-spacing="13.95" class="dv">**</text>
<text transform="matrix(0.5606 0 0 0.5096 1618.06 669.70)" font-weight="400" fill="#4c4c4c" stroke="#4c4c4c" stroke-width="7.0" stroke-linejoin="round" letter-spacing="11.28" class="dv">**</text>
<text transform="matrix(0.5606 0 0 0.5096 1768.06 332.20)" font-weight="400" fill="#4c4c4c" stroke="#4c4c4c" stroke-width="7.0" stroke-linejoin="round" letter-spacing="13.95" class="dv">**</text>
<text transform="matrix(0.5606 0 0 0.5096 1835.56 316.20)" font-weight="400" fill="#4c4c4c" stroke="#4c4c4c" stroke-width="7.0" stroke-linejoin="round" letter-spacing="13.95" class="dv">**</text>
<text transform="matrix(0.5606 0 0 0.5096 1903.06 342.20)" font-weight="400" fill="#4c4c4c" stroke="#4c4c4c" stroke-width="7.0" stroke-linejoin="round" letter-spacing="13.95" class="dv">**</text>
<text transform="matrix(0.5606 0 0 0.5096 1976.56 440.70)" font-weight="400" fill="#4c4c4c" stroke="#4c4c4c" stroke-width="7.0" stroke-linejoin="round" letter-spacing="12.17" class="dv">**</text>
<text transform="matrix(0.6557 0 0 0.7776 77.91 1757.00)" font-weight="700" fill="#050505">B</text>
<text transform="matrix(0.9051 0 0 0.9956 957.38 1851.00)" font-weight="700" fill="#050505">GSH CYN+</text>
<text transform="matrix(0.5581 0 0 0.5753 854.33 3048.79)" font-weight="400" fill="#101010" stroke="#101010" stroke-width="4.2" stroke-linejoin="round"><tspan x="0.00" letter-spacing="7.95">Concentrations</tspan> <tspan x="814.29" letter-spacing="10.71">(µg/mL)</tspan></text>
<text transform="translate(82.13 2640.81) rotate(-90) scale(0.5520 0.6202)" font-weight="700" fill="#101010" stroke="#101010" stroke-width="1.5" stroke-linejoin="round"><tspan x="0.00" letter-spacing="1.28">Fluorescence</tspan> <tspan x="708.55" letter-spacing="1.68">(%)</tspan></text>
<text transform="matrix(0.6329 0 0 0.5753 121.20 1991.35)" font-weight="400" fill="#333333" stroke="#333333" stroke-width="2.4" stroke-linejoin="round" letter-spacing="2.61">140</text>
<text transform="matrix(0.6329 0 0 0.5753 121.20 2116.35)" font-weight="400" fill="#333333" stroke="#333333" stroke-width="2.4" stroke-linejoin="round" letter-spacing="2.61">120</text>
<text transform="matrix(0.6404 0 0 0.5822 121.16 2240.84)" font-weight="400" fill="#333333" stroke="#333333" stroke-width="2.4" stroke-linejoin="round" letter-spacing="1.65">100</text>
<text transform="matrix(0.6404 0 0 0.5822 156.08 2360.84)" font-weight="400" fill="#333333" stroke="#333333" stroke-width="2.4" stroke-linejoin="round" letter-spacing="4.77">80</text>
<text transform="matrix(0.6404 0 0 0.5822 155.44 2485.84)" font-weight="400" fill="#333333" stroke="#333333" stroke-width="2.4" stroke-linejoin="round" letter-spacing="5.77">60</text>
<text transform="matrix(0.6404 0 0 0.5822 157.36 2605.84)" font-weight="400" fill="#333333" stroke="#333333" stroke-width="2.4" stroke-linejoin="round" letter-spacing="2.77">40</text>
<text transform="matrix(0.6479 0 0 0.5890 155.41 2730.82)" font-weight="400" fill="#333333" stroke="#333333" stroke-width="2.4" stroke-linejoin="round" letter-spacing="4.50">20</text>
<text transform="matrix(0.7060 0 0 0.5822 190.88 2851.34)" font-weight="400" fill="#333333" stroke="#333333" stroke-width="2.4" stroke-linejoin="round">0</text>
<text transform="matrix(0.6108 0 0 0.6108 442.56 2946.51)" font-weight="400" fill="#333333" stroke="#333333" stroke-width="1.6" stroke-linejoin="round" letter-spacing="-7.95">C-</text>
<text transform="matrix(0.6108 0 0 0.6108 734.72 2946.51)" font-weight="400" fill="#333333" stroke="#333333" stroke-width="1.6" stroke-linejoin="round" letter-spacing="-0.62">EC50/4</text>
<text transform="matrix(0.6108 0 0 0.6108 1093.22 2946.51)" font-weight="400" fill="#333333" stroke="#333333" stroke-width="1.6" stroke-linejoin="round" letter-spacing="-0.22">EC50/2</text>
<text transform="matrix(0.6108 0 0 0.6108 1489.72 2946.51)" font-weight="400" fill="#333333" stroke="#333333" stroke-width="1.6" stroke-linejoin="round" letter-spacing="-5.23">EC50</text>
<text transform="matrix(0.6108 0 0 0.6108 1886.56 2946.51)" font-weight="400" fill="#333333" stroke="#333333" stroke-width="1.6" stroke-linejoin="round" letter-spacing="-14.94">C+</text>
<text transform="matrix(0.5920 0 0 0.5381 2274.31 2354.29)" font-weight="400" fill="#333333" stroke="#333333" stroke-width="2.4" stroke-linejoin="round" letter-spacing="9.03">4h</text>
<text transform="matrix(0.5920 0 0 0.5381 2273.12 2479.49)" font-weight="400" fill="#333333" stroke="#333333" stroke-width="2.4" stroke-linejoin="round" letter-spacing="11.03">8h</text>
<text transform="matrix(0.5920 0 0 0.5381 2272.45 2605.09)" font-weight="400" fill="#333333" stroke="#333333" stroke-width="2.4" stroke-linejoin="round" letter-spacing="8.75">12h</text>
<text transform="matrix(0.5920 0 0 0.5381 2272.53 2729.79)" font-weight="400" fill="#333333" stroke="#333333" stroke-width="2.4" stroke-linejoin="round" letter-spacing="8.67">24h</text>
<text transform="matrix(0.5481 0 0 0.5096 1069.55 2228.20)" font-weight="400" fill="#4c4c4c" stroke="#4c4c4c" stroke-width="7.0" stroke-linejoin="round" class="dv">*</text>
<text transform="matrix(0.5769 0 0 0.5096 1277.08 2259.20)" font-weight="400" fill="#4c4c4c" stroke="#4c4c4c" stroke-width="7.0" stroke-linejoin="round" class="dv">*</text>
<text transform="matrix(0.5606 0 0 0.5096 1813.16 2515.50)" font-weight="400" fill="#4c4c4c" stroke="#4c4c4c" stroke-width="7.0" stroke-linejoin="round" letter-spacing="16.27" class="dv">**</text>
<text transform="matrix(0.5606 0 0 0.5096 1870.76 2599.40)" font-weight="400" fill="#4c4c4c" stroke="#4c4c4c" stroke-width="7.0" stroke-linejoin="round" letter-spacing="16.27" class="dv">**</text>
<text transform="matrix(0.5606 0 0 0.5096 1939.56 2590.60)" font-weight="400" fill="#4c4c4c" stroke="#4c4c4c" stroke-width="7.0" stroke-linejoin="round" letter-spacing="11.81" class="dv">**</text>
<text transform="matrix(0.5606 0 0 0.5096 2005.86 2515.50)" font-weight="400" fill="#4c4c4c" stroke="#4c4c4c" stroke-width="7.0" stroke-linejoin="round" letter-spacing="16.45" class="dv">**</text>
</g>
</g>
</svg>
</body>
</html>
